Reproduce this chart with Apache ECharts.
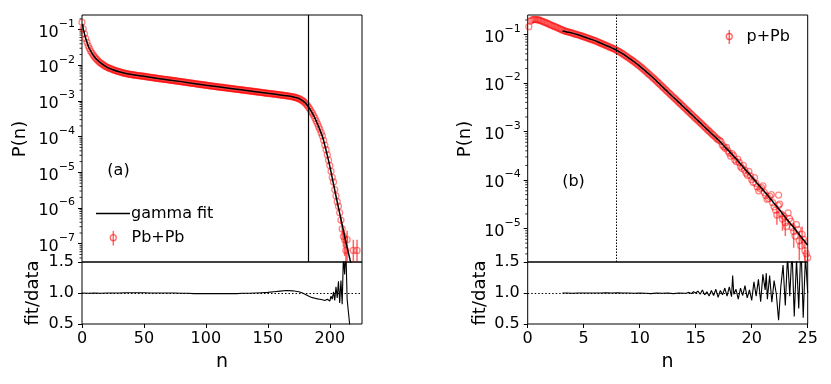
<!DOCTYPE html>
<html>
<head>
<meta charset="utf-8">
<script src="https://cdn.jsdelivr.net/npm/echarts/dist/echarts.min.js"></script>
<style>
  html, body { margin: 0; padding: 0; background: #fff; }
  #chart { width: 831px; height: 384px; }
</style>
</head>
<body>
<div id="chart"></div>
<script>
const FONT = 'DejaVu Sans'
const RED = 'rgba(255,0,0,0.6)'

// ---- panel (a): Pb+Pb ----
const nA = [0, 1, 2, 3, 4, 5, 6, 7, 8, 9, 10,
  12, 14, 16, 18, 20, 22, 24, 26, 28, 30, 32, 34, 36, 38, 40, 42, 44, 46, 48, 50,
  52, 54, 56, 58, 60, 62, 64, 66, 68, 70, 72, 74, 76, 78, 80, 82, 84, 86, 88, 90,
  92, 94, 96, 98, 100, 102, 104, 106, 108, 110, 112, 114, 116, 118, 120, 122, 124, 126, 128, 130,
  132, 134, 136, 138, 140, 142, 144, 146, 148, 150, 152, 154, 156, 158, 160, 162, 164, 166, 168, 170,
  172, 174, 176, 178, 180, 182, 184, 186, 188, 190, 192, 194, 196, 198, 200, 202, 204, 206, 208,
  209, 210, 211, 212, 213, 214, 219, 222]
const pA = [1.6e-1, 1.05e-1, 7.6e-2, 5.6e-2, 4.4e-2, 3.5e-2, 2.95e-2, 2.5e-2, 2.2e-2, 1.95e-2, 1.74e-2,
  1.45e-2, 1.23e-2, 1.10e-2, 9.8e-3, 8.9e-3, 8.3e-3, 7.8e-3, 7.3e-3, 6.9e-3, 6.6e-3, 6.3e-3, 6.0e-3, 5.85e-3, 5.6e-3, 5.5e-3, 5.35e-3, 5.2e-3, 5.1e-3, 5.0e-3, 4.9e-3,
  4.8e-3, 4.65e-3, 4.55e-3, 4.45e-3, 4.35e-3, 4.25e-3, 4.15e-3, 4.05e-3, 3.98e-3, 3.9e-3, 3.8e-3, 3.72e-3, 3.64e-3, 3.56e-3, 3.48e-3, 3.4e-3, 3.32e-3, 3.25e-3, 3.17e-3, 3.1e-3,
  3.03e-3, 2.96e-3, 2.89e-3, 2.83e-3, 2.76e-3, 2.70e-3, 2.64e-3, 2.59e-3, 2.53e-3, 2.48e-3, 2.43e-3, 2.38e-3, 2.33e-3, 2.29e-3, 2.24e-3, 2.19e-3, 2.15e-3, 2.10e-3, 2.06e-3, 2.02e-3,
  1.98e-3, 1.94e-3, 1.90e-3, 1.86e-3, 1.82e-3, 1.78e-3, 1.75e-3, 1.71e-3, 1.67e-3, 1.64e-3, 1.61e-3, 1.58e-3, 1.55e-3, 1.51e-3, 1.48e-3, 1.45e-3, 1.42e-3, 1.39e-3, 1.35e-3, 1.31e-3,
  1.26e-3, 1.20e-3, 1.12e-3, 1.02e-3, 8.9e-4, 7.4e-4, 5.9e-4, 4.5e-4, 3.3e-4, 2.3e-4, 1.6e-4, 1.05e-4, 5.8e-5, 3.1e-5, 1.55e-5, 7.2e-6, 3.3e-6, 1.5e-6, 7.4e-7,
  4.6e-7, 2.6e-7, 1.6e-7, 1.3e-7, 6.5e-8, 1.3e-7, 6.5e-8, 6.5e-8]
// odd bins 11..207
const nA2 = [11, 13, 15, 17, 19, 21, 23, 25, 27, 29,
  31, 33, 35, 37, 39, 41, 43, 45, 47, 49,
  51, 53, 55, 57, 59, 61, 63, 65, 67, 69,
  71, 73, 75, 77, 79, 81, 83, 85, 87, 89,
  91, 93, 95, 97, 99, 101, 103, 105, 107, 109,
  111, 113, 115, 117, 119, 121, 123, 125, 127, 129,
  131, 133, 135, 137, 139, 141, 143, 145, 147, 149,
  151, 153, 155, 157, 159, 161, 163, 165, 167, 169,
  171, 173, 175, 177, 179, 181, 183, 185, 187, 189,
  191, 193, 195, 197, 199, 201, 203, 205, 207]
const pA2 = [1.58e-2, 1.33e-2, 1.16e-2, 1.04e-2, 9.3e-3, 8.6e-3, 8.05e-3, 7.55e-3, 7.1e-3, 6.75e-3,
  6.45e-3, 6.15e-3, 5.92e-3, 5.72e-3, 5.55e-3, 5.42e-3, 5.27e-3, 5.15e-3, 5.05e-3, 4.95e-3,
  4.85e-3, 4.72e-3, 4.6e-3, 4.5e-3, 4.4e-3, 4.3e-3, 4.2e-3, 4.1e-3, 4.02e-3, 3.94e-3,
  3.85e-3, 3.76e-3, 3.68e-3, 3.6e-3, 3.52e-3, 3.44e-3, 3.36e-3, 3.28e-3, 3.21e-3, 3.13e-3,
  3.06e-3, 2.99e-3, 2.92e-3, 2.86e-3, 2.8e-3, 2.73e-3, 2.67e-3, 2.61e-3, 2.56e-3, 2.5e-3,
  2.45e-3, 2.4e-3, 2.35e-3, 2.31e-3, 2.26e-3, 2.21e-3, 2.17e-3, 2.12e-3, 2.08e-3, 2.04e-3,
  2.0e-3, 1.96e-3, 1.92e-3, 1.88e-3, 1.84e-3, 1.8e-3, 1.76e-3, 1.73e-3, 1.69e-3, 1.65e-3,
  1.62e-3, 1.59e-3, 1.56e-3, 1.53e-3, 1.5e-3, 1.46e-3, 1.43e-3, 1.4e-3, 1.37e-3, 1.33e-3,
  1.29e-3, 1.23e-3, 1.16e-3, 1.07e-3, 9.5e-4, 8.1e-4, 6.6e-4, 5.1e-4, 3.9e-4, 2.75e-4,
  1.9e-4, 1.29e-4, 7.9e-5, 4.3e-5, 2.2e-5, 1.07e-5, 5.4e-6, 2.2e-6, 1.12e-6]
const nErrA = [209, 210, 211, 212, 213, 214, 219, 222]
const loErrA = [3.5e-7, 1.6e-7, 8e-8, 4.5e-8, 1e-9, 3e-8, 1e-9, 1e-9]
const hiErrA = [5.7e-7, 3.6e-7, 2.4e-7, 2.1e-7, 1.3e-7, 2.3e-7, 1.3e-7, 1.3e-7]

const nFitA = [0.5, 1, 2, 3, 4, 5, 6, 8, 10, 12, 15, 20, 25, 30, 40, 50, 60, 80, 100, 120,
  140, 150, 160, 165, 170, 174, 177, 180, 182, 184, 186, 188, 190, 192, 194, 196, 198, 200, 202, 204,
  206, 208, 210, 212, 214, 216, 218]
const pFitA = [1.45e-1, 1.05e-1, 7.6e-2, 5.6e-2, 4.4e-2, 3.5e-2, 2.95e-2, 2.2e-2, 1.74e-2, 1.45e-2,
  1.16e-2, 8.9e-3, 7.5e-3, 6.6e-3, 5.5e-3, 4.9e-3, 4.35e-3, 3.48e-3, 2.76e-3, 2.24e-3,
  1.82e-3, 1.64e-3, 1.48e-3, 1.40e-3, 1.31e-3, 1.21e-3, 1.08e-3, 9.0e-4, 7.5e-4, 5.9e-4,
  4.5e-4, 3.3e-4, 2.3e-4, 1.55e-4, 1.02e-4, 5.7e-5, 3.0e-5, 1.5e-5, 6.9e-6, 3.2e-6,
  1.48e-6, 7.1e-7, 3.4e-7, 1.62e-7, 7.9e-8, 4.0e-8, 2.0e-8]

const nRatioA = [0, 5, 10, 15, 20, 25, 30, 35, 40, 45, 50, 55, 60, 65, 70, 75, 80, 85, 90, 95, 100,
  105, 110, 115, 120, 125, 130, 135, 140, 145, 150, 155, 160, 165, 170, 175,
  178, 180, 182, 184, 186, 188, 190, 192, 193, 194, 195, 196, 197, 198, 199, 200,
  201, 202, 203, 204, 205, 206, 207, 208, 209, 210, 211, 212, 213, 214, 215, 216, 217]
const ratioA = [1.0, 0.995, 1.0, 0.995, 1.0, 1.0, 1.0, 1.005, 1.005, 1.005, 1.005, 1.0, 1.0, 1.0, 1.0, 1.0, 0.995, 0.995, 0.99, 0.99, 0.99,
  0.99, 0.99, 0.99, 0.99, 0.99, 0.995, 0.995, 1.0, 1.005, 1.01, 1.02, 1.03, 1.04, 1.035, 1.02,
  1.0, 0.98, 0.96, 0.94, 0.925, 0.915, 0.905, 0.9, 0.91, 0.89, 0.905, 0.88, 0.91, 0.9, 0.93, 0.87,
  0.95, 0.9, 1.02, 0.88, 1.1, 0.92, 1.19, 0.84, 1.2, 0.82, 1.6, 1.3, 1.7, 0.9, 0.7, 0.5, 0.3]
const cutA = 182.6

// ---- panel (b): p+Pb ----
const nB = [0.1, 0.25, 0.5, 0.75, 1, 1.25, 1.5, 1.75, 2, 2.25,
  2.5, 2.75, 3, 3.25, 3.5, 3.75, 4, 4.25, 4.5, 4.75,
  5, 5.25, 5.5, 5.75, 6, 6.25, 6.5, 6.75, 7, 7.25,
  7.5, 7.75, 8, 8.25, 8.5, 8.75, 9, 9.25, 9.5, 9.75,
  10, 10.25, 10.5, 10.75, 11, 11.25, 11.5, 11.75, 12, 12.25,
  12.5, 12.75, 13, 13.25, 13.5, 13.75, 14, 14.25, 14.5, 14.75,
  15, 15.25, 15.5, 15.75, 16, 16.25, 16.5, 16.75, 17, 17.25,
  17.5, 17.75, 18, 18.25, 18.5, 18.75, 19, 19.25, 19.5, 19.75,
  20, 20.25, 20.5, 20.75, 21, 21.25, 21.5, 21.75, 22, 22.25,
  22.4, 22.5, 22.75, 23, 23.25, 23.5, 23.75, 24, 24.25, 24.5,
  24.75, 25]
const pB = [0.145, 0.19, 0.204, 0.204, 0.1995, 0.19, 0.18, 0.17, 0.16, 0.151,
  0.143, 0.135, 0.127, 0.12, 0.115, 0.111, 0.107, 0.102, 0.0989, 0.0944,
  0.0902, 0.0861, 0.0822, 0.0785, 0.075, 0.0708, 0.0668, 0.0631, 0.0596, 0.0562,
  0.0531, 0.0501, 0.0468, 0.0432, 0.0398, 0.0363, 0.0331, 0.0302, 0.0275, 0.0248,
  0.0224, 0.02, 0.0178, 0.0158, 0.0141, 0.0124, 0.011, 0.00966, 0.00851, 0.0075,
  0.0066, 0.00582, 0.00513, 0.00452, 0.00398, 0.00351, 0.00309, 0.00272, 0.0024, 0.00211,
  0.00186, 0.00164, 0.00145, 0.00127, 0.00112, 0.00099, 0.00087, 0.00077, 0.00068, 6.2e-4,
  4.9e-4, 4.7e-4, 3.6e-4, 3.5e-4, 2.6e-4, 2.7e-4, 1.9e-4, 2.0e-4, 1.38e-4, 1.5e-4,
  1.02e-4, 1.12e-4, 7.2e-5, 6.6e-5, 7.6e-5, 4.8e-5, 4.2e-5, 5.0e-5, 2.8e-5, 1.9e-5,
  4.9e-5, 3.2e-5, 1.58e-5, 1.32e-5, 2.1e-5, 1.41e-5, 8.7e-6, 1.2e-5, 5.6e-6, 7.6e-6,
  3.5e-6, 2.5e-6]
// in-between bins (the measured points are much denser than one per 0.25)
const nB2 = [0.375, 0.625, 0.875, 1.125, 1.375, 1.625, 1.875, 2.125, 2.375, 2.625,
  2.875, 3.125, 3.375, 3.625, 3.875, 4.125, 4.375, 4.625, 4.875, 5.125,
  5.375, 5.625, 5.875, 6.125, 6.375, 6.625, 6.875, 7.125, 7.375, 7.625,
  7.875, 8.125, 8.375, 8.625, 8.875, 9.125, 9.375, 9.625, 9.875, 10.125,
  10.375, 10.625, 10.875, 11.125, 11.375, 11.625, 11.875, 12.125, 12.375, 12.625,
  12.875, 13.125, 13.375, 13.625, 13.875, 14.125, 14.375, 14.625, 14.875, 15.125,
  15.375, 15.625, 15.875, 16.125, 16.375, 16.625, 16.875, 17.125, 17.375, 17.625,
  17.875, 18.125, 18.375, 18.625, 18.875, 19.125, 19.375, 19.625, 19.875, 20.125,
  20.375, 20.625, 20.875, 21.125, 21.375, 21.625, 21.875, 22.125, 22.375, 22.625,
  22.875, 23.125, 23.375, 23.625, 23.875, 24.125, 24.375, 24.625, 24.875]
const pB2 = [0.2, 0.205, 0.202, 0.195, 0.185, 0.175, 0.165, 0.155, 0.147, 0.139,
  0.131, 0.123, 0.117, 0.113, 0.109, 0.1045, 0.1005, 0.0966, 0.0923, 0.0881,
  0.0841, 0.0803, 0.0767, 0.0729, 0.0688, 0.0649, 0.0613, 0.0579, 0.0546, 0.0516,
  0.0484, 0.045, 0.0415, 0.038, 0.0347, 0.0316, 0.0288, 0.0261, 0.0236, 0.0212,
  0.0189, 0.0168, 0.0149, 0.0132, 0.0117, 0.0103, 0.00907, 0.00799, 0.00704, 0.0062,
  0.00546, 0.00482, 0.00424, 0.00374, 0.0033, 0.0029, 0.00256, 0.00225, 0.00198, 0.00175,
  0.00154, 0.00136, 0.0012, 0.00105, 0.00093, 0.00082, 0.00072, 6.6e-4, 5.3e-4, 4.5e-4,
  4.0e-4, 3.1e-4, 3.2e-4, 2.4e-4, 2.3e-4, 1.75e-4, 1.6e-4, 1.25e-4, 1.22e-4, 9.0e-5,
  8.5e-5, 6.0e-5, 7.0e-5, 5.5e-5, 4.0e-5, 4.6e-5, 3.4e-5, 2.4e-5, 3.0e-5, 2.0e-5,
  1.8e-5, 1.1e-5, 1.6e-5, 1.05e-5, 7.0e-6, 9.5e-6, 4.4e-6, 6.0e-6, 3.0e-6]
const nErrB = [22.25, 22.75, 23, 23.75, 24.25, 24.5, 24.75, 25]
const loErrB = [1.2e-5, 9e-6, 7e-6, 4e-6, 2.2e-6, 4e-6, 1e-9, 1e-9]
const hiErrB = [2.6e-5, 2.2e-5, 1.9e-5, 1.3e-5, 9e-6, 1.1e-5, 6e-6, 4.5e-6]

const nFitB = [3.1, 3.5, 4, 4.5, 5, 5.5, 6, 6.5, 7, 7.5, 8, 8.5, 9, 9.5, 10, 10.5, 11, 11.5, 12, 12.5,
  13, 13.5, 14, 14.5, 15, 15.5, 16, 16.5, 17, 17.5, 18, 18.5, 19, 19.5, 20, 20.5, 21, 21.5, 22, 22.5,
  23, 23.5, 24, 24.5, 25]
const pFitB = [0.118, 0.113, 0.107, 0.099, 0.090, 0.082, 0.075, 0.0668, 0.0596, 0.0531,
  0.0468, 0.0398, 0.0331, 0.0275, 0.0224, 0.0178, 0.0141, 0.011, 0.0085, 0.0066,
  0.0051, 0.004, 0.0031, 0.0024, 0.00186, 0.00145, 0.00112, 0.00087, 0.00068, 5.1e-4,
  3.9e-4, 2.9e-4, 2.14e-4, 1.58e-4, 1.17e-4, 8.5e-5, 6.3e-5, 4.6e-5, 3.3e-5, 2.4e-5,
  1.7e-5, 1.23e-5, 8.9e-6, 6.3e-6, 4.5e-6]

const nRatioB = [3.1, 3.5, 4, 4.5, 5, 5.5, 6, 6.5, 7, 7.5, 8, 8.5, 9, 9.5, 10, 10.5, 11, 11.5, 12, 12.5, 13, 13.5, 14,
  14.2, 14.4, 14.6, 14.8, 15, 15.2, 15.4, 15.6, 15.8, 16, 16.2, 16.4, 16.6, 16.8, 17, 17.2, 17.4, 17.6, 17.8, 18,
  18.2, 18.3, 18.4, 18.6, 18.8, 19, 19.2, 19.4, 19.6, 19.8, 20, 20.2, 20.4, 20.6, 20.8, 21, 21.2, 21.3, 21.4, 21.6, 21.8, 22,
  22.2, 22.4, 22.6, 22.8, 23, 23.2, 23.4, 23.6, 23.8, 24, 24.2, 24.4, 24.6, 24.8, 25]
const ratioB = [1.0, 1.0, 0.995, 1.0, 1.0, 1.0, 1.0, 1.0, 1.005, 1.0, 1.005, 1.0, 1.0, 0.995, 1.0, 0.995, 0.99, 1.0, 0.995, 1.0, 0.99, 1.0, 0.995,
  1.0, 1.01, 0.99, 1.02, 1.0, 1.03, 0.98, 1.05, 0.97, 1.02, 0.95, 1.04, 0.96, 1.06, 0.93, 1.04, 0.97, 1.08, 0.95, 1.1,
  0.94, 1.28, 0.98, 1.06, 0.9, 1.08, 0.96, 1.12, 0.92, 1.05, 0.88, 1.18, 0.95, 1.22, 0.86, 1.3, 1.05, 1.32, 0.9, 1.28, 0.85, 1.2,
  0.98, 0.56, 1.1, 1.45, 0.8, 1.6, 0.95, 1.7, 0.62, 1.55, 0.75, 1.8, 0.6, 1.6, 1.0]
const cutB = 7.88

// axis ranges
const xRangeA = [0, 226]
const yRangeA = [3.08e-8, 0.256]
const xRangeB = [0, 25]
const yRangeB = [2.04e-6, 0.253]
const ratioRange = [0.5, 1.5]
const minorMult = [2, 3, 4, 5, 6, 7, 8, 9]

function zip(xs, ys) {
  return xs.map((x, i) => [x, ys[i]])
}
function zip3(xs, lo, hi) {
  return xs.map((x, i) => [x, lo[i], hi[i]])
}
function minorTicks(xmin, yr) {
  const out = []
  for (let e = -9; e <= 0; e++) {
    minorMult.forEach(m => {
      const v = m * Math.pow(10, e)
      if (v > yr[0] && v < yr[1]) out.push([xmin, v])
    })
  }
  return out
}

const chart = echarts.init(document.getElementById('chart'), null, { renderer: 'canvas' })

const grids = [
  { left: 82, top: 15, width: 280, height: 247 },
  { left: 82, top: 262, width: 280, height: 62 },
  { left: 527.7, top: 15, width: 280, height: 247 },
  { left: 527.7, top: 262, width: 280, height: 62 }
].map(g => Object.assign(g, { show: true, borderColor: '#000', borderWidth: 1, backgroundColor: 'transparent', containLabel: false }))

function logAxis(gi, yr) {
  return {
    type: 'log', logBase: 10, gridIndex: gi, min: yr[0], max: yr[1], splitNumber: 7,
    axisLine: { show: false },
    axisTick: { show: true, length: 4, lineStyle: { color: '#000', width: 1 } },
    splitLine: { show: false },
    axisLabel: {
      margin: 7, showMinLabel: false, showMaxLabel: false,
      formatter: v => {
        const e = Math.log10(v)
        const k = Math.round(e)
        if (Math.abs(e - k) > 1e-6) return ''
        return '{b|10}{s|\u2212' + Math.abs(k) + '}'
      },
      rich: {
        b: { fontSize: 16, fontFamily: FONT, color: '#000', lineHeight: 22, verticalAlign: 'bottom' },
        s: { fontSize: 11, fontFamily: FONT, color: '#000', lineHeight: 12, verticalAlign: 'top' }
      }
    }
  }
}
function ratioAxis(gi) {
  return {
    type: 'value', gridIndex: gi, min: ratioRange[0], max: ratioRange[1], interval: 0.5,
    axisLine: { show: false },
    axisTick: { show: true, length: 4, lineStyle: { color: '#000' } },
    splitLine: { show: false },
    axisLabel: { margin: 8, fontSize: 16, fontFamily: FONT, color: '#000', formatter: v => v.toFixed(1) }
  }
}
function topX(gi, xr) {
  return {
    type: 'value', gridIndex: gi, min: xr[0], max: xr[1],
    axisLine: { show: false }, axisTick: { show: false }, axisLabel: { show: false }, splitLine: { show: false }
  }
}
function bottomX(gi, xr, step, showMax) {
  return {
    type: 'value', gridIndex: gi, min: xr[0], max: xr[1], interval: step,
    axisLine: { show: false },
    axisTick: { show: true, length: 4, lineStyle: { color: '#000' } },
    splitLine: { show: false },
    axisLabel: { margin: 7, fontSize: 16, fontFamily: FONT, color: '#000', showMaxLabel: showMax, showMinLabel: true }
  }
}

function markerSeries(ai, data) {
  return {
    type: 'scatter', xAxisIndex: ai, yAxisIndex: ai, data: data, symbol: 'circle', symbolSize: 6,
    itemStyle: { color: 'rgba(255,255,255,0)', borderColor: RED, borderWidth: 1.3 }, z: 2, silent: true
  }
}
function errSeries(ai, data) {
  return {
    type: 'custom', xAxisIndex: ai, yAxisIndex: ai, data: data, clip: true, z: 2, silent: true,
    renderItem: (params, api) => {
      const a = api.coord([api.value(0), api.value(1)])
      const b = api.coord([api.value(0), api.value(2)])
      return { type: 'line', shape: { x1: a[0], y1: a[1], x2: b[0], y2: b[1] }, style: { stroke: RED, lineWidth: 1.5 } }
    }
  }
}
function minorSeries(ai, data) {
  return {
    type: 'custom', xAxisIndex: ai, yAxisIndex: ai, data: data, clip: false, silent: true,
    renderItem: (params, api) => {
      const c = api.coord([api.value(0), api.value(1)])
      return { type: 'line', shape: { x1: c[0] - 2.5, y1: c[1], x2: c[0], y2: c[1] }, style: { stroke: '#000', lineWidth: 0.8 } }
    }
  }
}
function vLine(x, dotted) {
  return {
    silent: true, symbol: ['none', 'none'], label: { show: false },
    lineStyle: { color: '#000', width: dotted ? 1 : 1.2, type: dotted ? [1.5, 1.5] : 'solid' },
    data: [{ xAxis: x }]
  }
}
const hLine = {
  silent: true, symbol: ['none', 'none'], label: { show: false },
  lineStyle: { color: '#000', width: 1, type: [1.5, 2] },
  data: [{ yAxis: 1 }]
}

const txt = (t, x, y, size, rot) => ({
  type: 'text', x: x, y: y, rotation: rot || 0, silent: true,
  style: { text: t, fontSize: size, fontFamily: FONT, fill: '#000', align: 'center', verticalAlign: 'middle' }
})

chart.setOption({
  animation: false,
  grid: grids,
  xAxis: [topX(0, xRangeA), bottomX(1, xRangeA, 50, false), topX(2, xRangeB), bottomX(3, xRangeB, 5, true)],
  yAxis: [logAxis(0, yRangeA), ratioAxis(1), logAxis(2, yRangeB), ratioAxis(3)],
  series: [
    markerSeries(0, zip(nA, pA).concat(zip(nA2, pA2))),
    errSeries(0, zip3(nErrA, loErrA, hiErrA)),
    {
      type: 'line', xAxisIndex: 0, yAxisIndex: 0, data: zip(nFitA, pFitA), showSymbol: false, smooth: 0.3,
      lineStyle: { color: '#000', width: 1.5 }, z: 3, silent: true, markLine: vLine(cutA, false)
    },
    minorSeries(0, minorTicks(xRangeA[0], yRangeA)),
    {
      type: 'line', xAxisIndex: 1, yAxisIndex: 1, data: zip(nRatioA, ratioA), showSymbol: false,
      lineStyle: { color: '#000', width: 1.1 }, silent: true, markLine: hLine
    },
    markerSeries(2, zip(nB, pB).concat(zip(nB2, pB2))),
    errSeries(2, zip3(nErrB, loErrB, hiErrB)),
    {
      type: 'line', xAxisIndex: 2, yAxisIndex: 2, data: zip(nFitB, pFitB), showSymbol: false, smooth: 0.3,
      lineStyle: { color: '#000', width: 1.5 }, z: 3, silent: true, markLine: vLine(cutB, true)
    },
    minorSeries(2, minorTicks(xRangeB[0], yRangeB)),
    {
      type: 'line', xAxisIndex: 3, yAxisIndex: 3, data: zip(nRatioB, ratioB), showSymbol: false,
      lineStyle: { color: '#000', width: 1.1 }, silent: true, markLine: hLine
    }
  ],
  graphic: [
    // axis titles
    txt('P(n)', 20.7, 139, 18, Math.PI / 2),
    txt('fit/data', 33, 293, 18, Math.PI / 2),
    txt('n', 222, 362, 19),
    txt('P(n)', 465, 139, 18, Math.PI / 2),
    txt('fit/data', 480, 293, 18, Math.PI / 2),
    txt('n', 667.5, 362, 19),
    // panel tags
    txt('(a)', 118.5, 171, 16),
    txt('(b)', 573.5, 181.5, 16),
    // legend (a)
    { type: 'line', silent: true, shape: { x1: 96, y1: 213.5, x2: 130, y2: 213.5 }, style: { stroke: '#000', lineWidth: 1.5 } },
    { type: 'text', silent: true, x: 131, y: 213.5, style: { text: 'gamma fit', fontSize: 16, fontFamily: FONT, fill: '#000', verticalAlign: 'middle' } },
    { type: 'line', silent: true, shape: { x1: 113.3, y1: 231, x2: 113.3, y2: 245.5 }, style: { stroke: RED, lineWidth: 1.5 } },
    { type: 'circle', silent: true, shape: { cx: 113.3, cy: 237.7, r: 3 }, style: { fill: 'rgba(255,255,255,0)', stroke: RED, lineWidth: 1.3 } },
    { type: 'text', silent: true, x: 131.5, y: 237.7, style: { text: 'Pb+Pb', fontSize: 16, fontFamily: FONT, fill: '#000', verticalAlign: 'middle' } },
    // legend (b)
    { type: 'line', silent: true, shape: { x1: 729.3, y1: 30, x2: 729.3, y2: 44 }, style: { stroke: RED, lineWidth: 1.5 } },
    { type: 'circle', silent: true, shape: { cx: 729.3, cy: 36.5, r: 3 }, style: { fill: 'rgba(255,255,255,0)', stroke: RED, lineWidth: 1.3 } },
    { type: 'text', silent: true, x: 746.5, y: 36.5, style: { text: 'p+Pb', fontSize: 16, fontFamily: FONT, fill: '#000', verticalAlign: 'middle' } }
  ]
})
</script>
</body>
</html>
